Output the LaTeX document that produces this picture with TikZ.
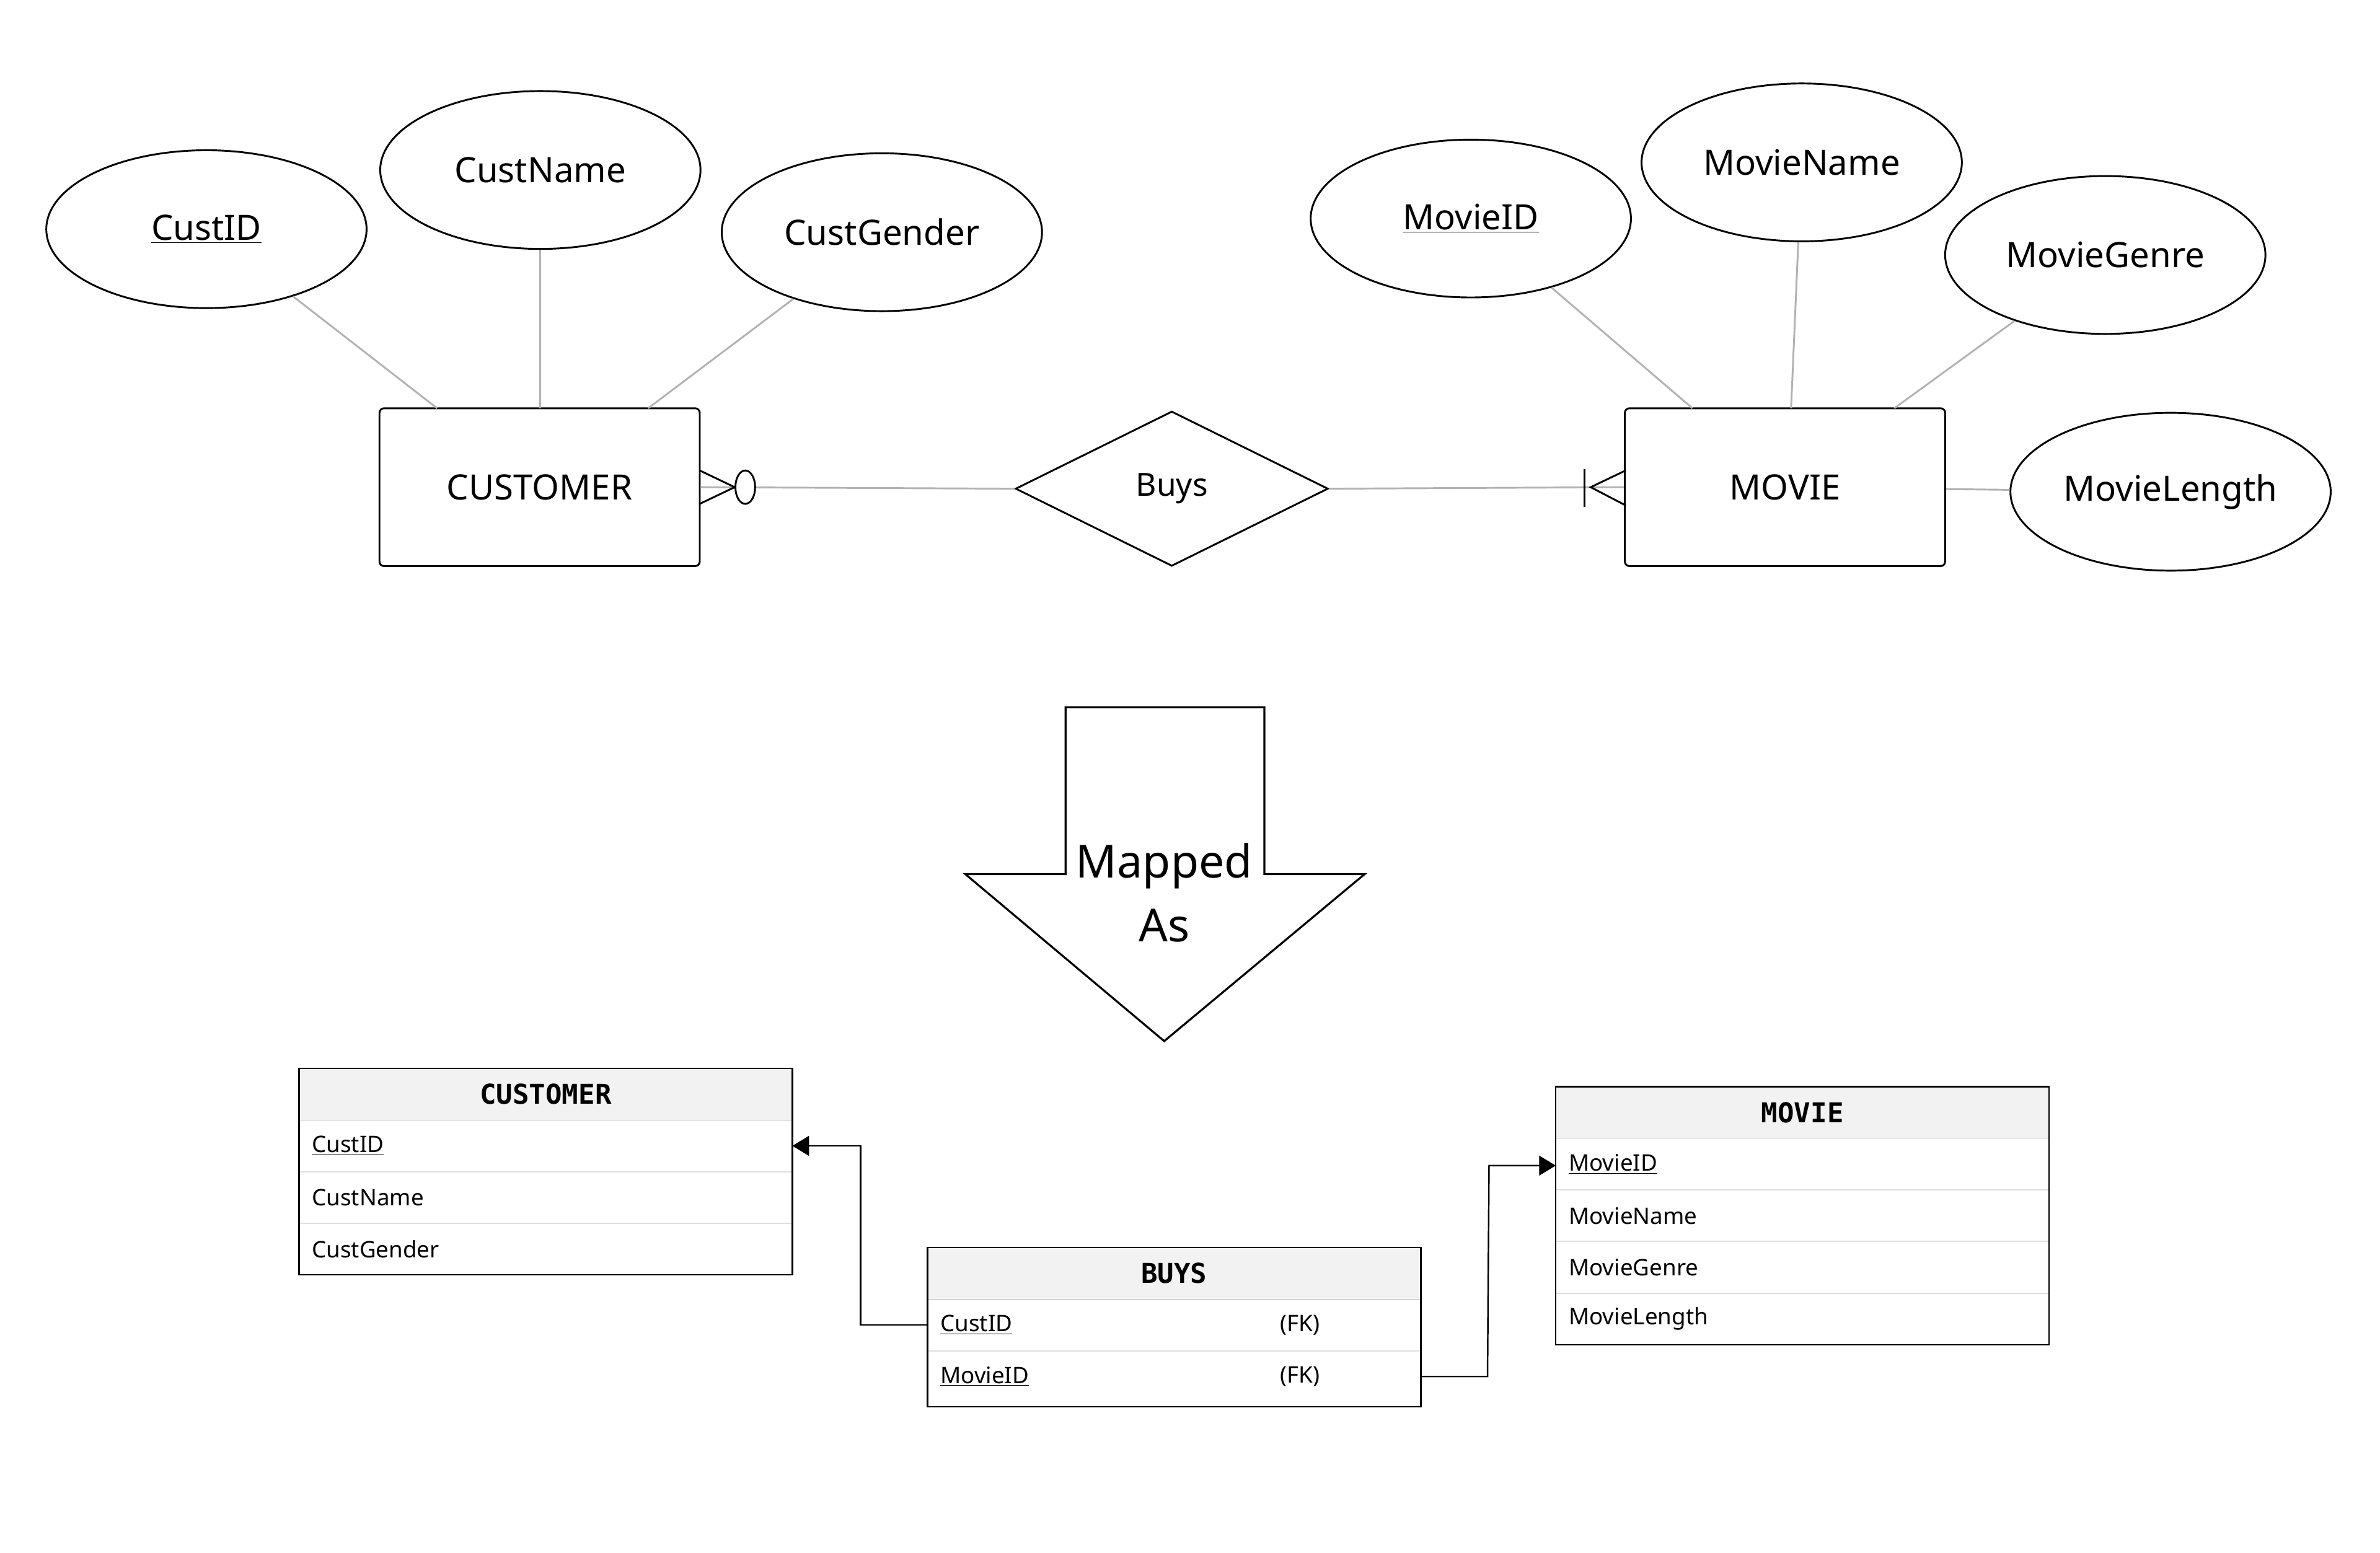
\documentclass[tikz,border=0pt]{standalone}
\usepackage{fontspec}
\setmainfont{Noto Sans}
\newfontfamily\monob{DejaVu Sans Mono}
\usetikzlibrary{shapes.geometric,arrows.meta}
\begin{document}
\begin{tikzpicture}[x=1pt,y=-1pt,
 attr/.style={ellipse,draw,line width=1.2pt,minimum width=211pt,minimum height=104pt,font=\fontsize{23}{26}\selectfont},
 ent/.style={draw,line width=1.2pt,rounded corners=3pt,minimum width=211pt,minimum height=104pt,font=\fontsize{23}{26}\selectfont},
 gl/.style={draw=gray!60,line width=1.2pt},
 tb/.style={draw,line width=1pt},
 rowt/.style={anchor=west,font=\fontsize{15}{18}\selectfont},
 hdr/.style={font=\monob\bfseries\fontsize{18}{20}\selectfont},
 sep/.style={draw=gray!25,line width=0.8pt}]
\useasboundingbox (0,0) rectangle (1568,1023);
% ER
\node[attr] (cid) at (136,151) {\underline{CustID}};
\node[attr] (cn) at (356,112) {CustName};
\node[attr] (cg) at (581,153) {CustGender};
\node[attr] (mid) at (969,144) {\underline{MovieID}};
\node[attr] (mn) at (1187,107) {MovieName};
\node[attr] (mg) at (1387,168) {MovieGenre};
\node[attr] (ml) at (1430,324) {MovieLength};
\node[ent] (cust) at (355.5,321) {CUSTOMER};
\node[ent] (mov) at (1176,321) {MOVIE};
\node[diamond,draw,line width=1.2pt,minimum width=206pt,minimum height=102pt,aspect=2,inner sep=0pt,font=\fontsize{21}{24}\selectfont] (buys) at (772,322) {Buys};
\coordinate (c1) at (288,269); \coordinate (c2) at (356,269); \coordinate (c3) at (427,269);
\coordinate (m1) at (1115,269); \coordinate (m2) at (1180,269); \coordinate (m3) at (1248,269);
\draw[gl] (cid) -- (c1); \draw[gl] (cn) -- (c2); \draw[gl] (cg) -- (c3);
\draw[gl] (mid) -- (m1); \draw[gl] (mn) -- (m2); \draw[gl] (mg) -- (m3);
\draw[gl] (ml) -- (mov);
\draw[gl] (cust.east) -- (buys.west);
\draw[gl] (buys.east) -- (mov.west);
% crow's feet
\draw[line width=1.2pt] (461,310) -- (484,321) -- (461,332);
\draw[line width=1.2pt,fill=white] (491,321) ellipse (6.5pt and 11pt);
\draw[line width=1.2pt] (1071,310) -- (1048,321) -- (1071,333);
\draw[line width=1.4pt] (1044,309) -- (1044,334);
% big arrow
\draw[line width=1.3pt] (702,466) -- (833,466) -- (833,576) -- (899,576) -- (767,686) -- (636,576) -- (702,576) -- cycle;
\node[align=center,font=\fontsize{30}{42}\selectfont] (mapped) at (767,588) {Mapped\\As};
% tables
% CUSTOMER
\fill[gray!10] (197,704) rectangle (522,738);
\node[hdr] (tc) at (359.5,721) {CUSTOMER};
\draw[sep] (197,772) -- (522,772); \draw[sep] (197,806) -- (522,806);
\draw[gray!60] (197,738) -- (522,738);
\node[rowt] (tc1) at (202,755) {\textbf{\underline{CustID}}};
\node[rowt] (tc2) at (202,789) {CustName};
\node[rowt] (tc3) at (202,823) {CustGender};
\draw[tb] (197,704) rectangle (522,840);
\coordinate (tcR) at (522,755);
% BUYS
\fill[gray!10] (611,822) rectangle (936,856);
\node[hdr] (tbh) at (773.5,839) {BUYS};
\draw[gray!60] (611,856) -- (936,856); \draw[sep] (611,890) -- (936,890);
\node[rowt] (tb1) at (616,873) {\textbf{\underline{CustID}}};
\node[rowt] (tb2) at (616,907) {\textbf{\underline{MovieID}}};
\node[rowt] (fk1) at (840,873) {(FK)};
\node[rowt] (fk2) at (840,907) {(FK)};
\draw[tb] (611,822) rectangle (936,927);
\coordinate (tbL) at (611,873); \coordinate (tbR) at (936,907);
% MOVIE
\fill[gray!10] (1025,716) rectangle (1350,750);
\node[hdr] (tm) at (1187.5,733) {MOVIE};
\draw[gray!60] (1025,750) -- (1350,750);
\draw[sep] (1025,784) -- (1350,784); \draw[sep] (1025,818) -- (1350,818); \draw[sep] (1025,852) -- (1350,852);
\node[rowt] (tm1) at (1030,767) {\textbf{\underline{MovieID}}};
\node[rowt] (tm2) at (1030,801) {MovieName};
\node[rowt] (tm3) at (1030,835) {MovieGenre};
\node[rowt] (tm4) at (1030,869) {MovieLength};
\draw[tb] (1025,716) rectangle (1350,886);
\coordinate (tmL) at (1025,768);
\draw[line width=1pt,-{Triangle[length=11pt,width=13pt]}] (tbL) -- (567,873) -- (567,755) -- (tcR);
\draw[line width=1pt,-{Triangle[length=11pt,width=13pt]}] (tbR) -- (980,907) -- (981,768) -- (tmL);
\end{tikzpicture}
\end{document}
